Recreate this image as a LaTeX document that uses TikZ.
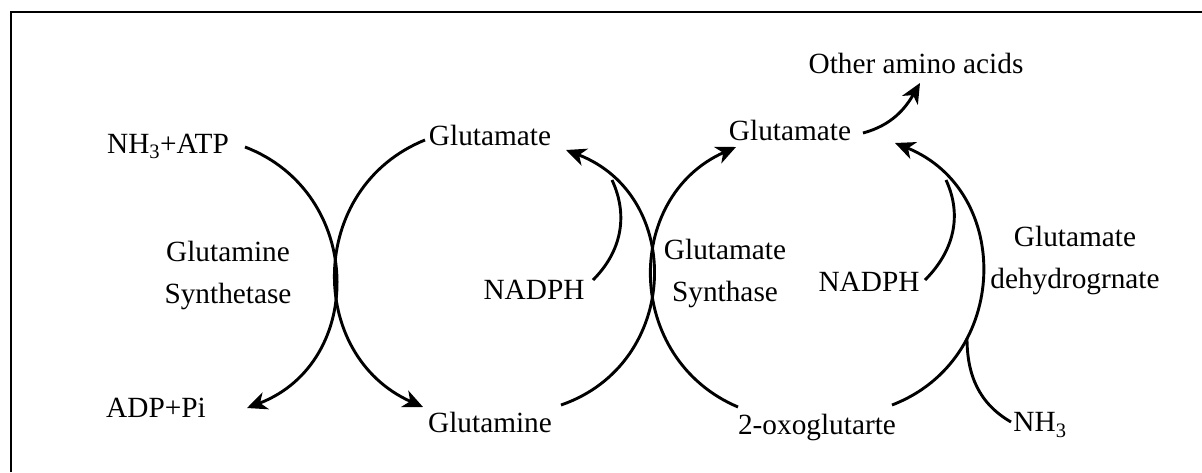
\documentclass[tikz,border=0pt]{standalone}
\usepackage{fontspec}
\setmainfont{Liberation Serif}
\usetikzlibrary{arrows.meta,calc}
\begin{document}
\begin{tikzpicture}[x=1pt,y=1pt,
  lbl/.style={inner sep=0pt,align=center,font=\fontsize{29.3}{42}\selectfont},
  flow/.style={line width=2.9pt,-{Stealth[length=20pt,width=18pt,inset=6pt]}},
  feed/.style={line width=2.9pt},
  frame/.style={line width=2pt}]
\useasboundingbox (0,0) rectangle (1202,-472);
\coordinate (fb) at (11,-472);
\coordinate (fc) at (11,-12);
\coordinate (fr) at (1202,-12);
\draw[frame] (fb) -- (fc) -- (fr);

\node[lbl] (nh3atp) at (168,-146) {NH\textsubscript{3}+ATP};
\node[lbl] (adppi) at (156,-408) {ADP+Pi};
\node[lbl] (gsl) at (228,-275) {Glutamine\\Synthetase};
\node[lbl] (glu1) at (490,-135) {Glutamate};
\node[lbl] (gln) at (490,-422) {Glutamine};
\node[lbl] (nadph1) at (534,-290) {NADPH};
\node[lbl] (gsyn) at (725,-273) {Glutamate\\Synthase};
\node[lbl] (glu2) at (790,-130) {Glutamate};
\node[lbl] (oaa) at (916,-63) {Other amino acids};
\node[lbl] (nadph2) at (869,-282) {NADPH};
\node[lbl] (oxo) at (817,-427) {2-oxoglutarte};
\node[lbl] (gdh) at (1075,-260) {Glutamate\\dehydrogrnate};
\node[lbl] (nh3) at (1040,-425) {NH\textsubscript{3}};

\coordinate (j1) at (612,-180);
\coordinate (j2) at (946,-180);
\coordinate (j3) at (967,-338);

% Glutamine synthetase pair
\draw[flow] ($(nh3atp)+(77,-1)$) to[out=-21,in=21,looseness=1.25] ($(adppi)+(91,0)$);
\draw[flow] ($(glu1)+(-65,-5)$) to[out=202,in=156,looseness=1.22] ($(gln)+(-67,15)$);
% Glutamate synthase pair
\draw[flow] ($(gln)+(71,17)$) to[out=19,in=-21,looseness=1.27] ($(glu1)+(76,-15)$);
\draw[flow] ($(oxo)+(-79,20)$) to[out=157,in=-156,looseness=1.215] ($(glu2)+(-54,-17)$);
% Glutamate dehydrogenase
\draw[flow] ($(oxo)+(75,22)$) to[out=21,in=-22,looseness=1.24] ($(glu2)+(105,-13)$);
% to other amino acids
\draw[flow] ($(glu2)+(73,-3)$) to[out=15,in=-120] ($(oaa)+(4,-20)$);
% cofactors
\draw[feed] ($(nadph1)+(59,10)$) to[out=45,in=-65] (j1);
\draw[feed] ($(nadph2)+(56,2)$) to[out=45,in=-65] (j2);
\draw[feed] ($(nh3)+(-29,3)$) to[out=150,in=-90] (j3);
\end{tikzpicture}
\end{document}
